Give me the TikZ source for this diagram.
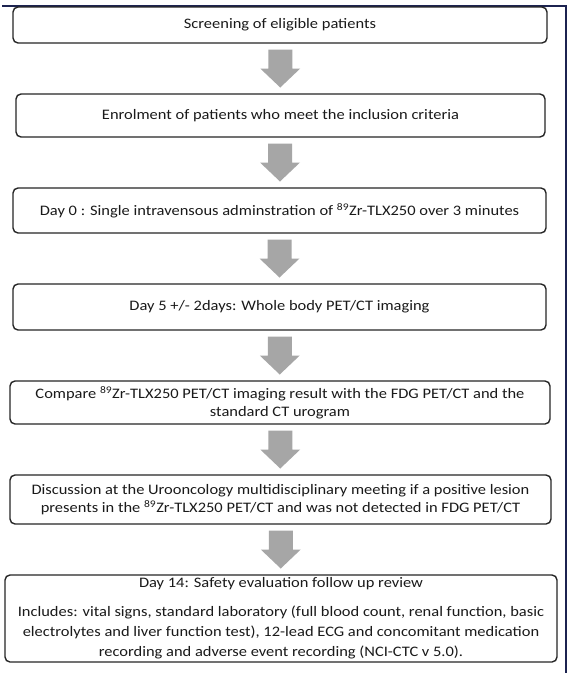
\documentclass[tikz,border=0pt]{standalone}
\usepackage{fontspec}
\setmainfont[FakeStretch=1.135]{Carlito}
\usetikzlibrary{calc}
\definecolor{navyline}{HTML}{1C2350}
\definecolor{boxline}{HTML}{262626}
\definecolor{arrowgray}{HTML}{A6A6A6}
\definecolor{txt}{HTML}{1A1A1A}
\tikzset{
  flowbox/.style={draw=boxline, line width=1.4pt, rounded corners=5pt, inner sep=0pt,
    align=center, text=txt, font=\fontsize{14.5}{18}\selectfont},
  blockarrow/.style={fill=arrowgray, draw=none}
}
\newcommand{\blockarr}[2]{%
  \path ($(#1.south)!0.5!(#2.north)$) coordinate (m);
  \fill[blockarrow] ($(m)+(-12,19)$) -- ($(m)+(12,19)$) -- ($(m)+(12,0)$) -- ($(m)+(20,0)$)
    -- ($(m)+(0,-19)$) -- ($(m)+(-20,0)$) -- ($(m)+(-12,0)$) -- cycle;}
\begin{document}
\begin{tikzpicture}[x=1pt,y=1pt]
\useasboundingbox (0,0) rectangle (570,-673);
\fill[white] (0,0) rectangle (570,-673);
\draw[navyline, line width=2pt] (2,-5.5) -- (566,-5.5) -- (566,-673);

\node[flowbox, minimum width=534pt, minimum height=36pt] (b1) at (280,-25) {Screening of eligible patients};
\node[flowbox, minimum width=529pt, minimum height=43pt] (b2) at (280.5,-115.5) {Enrolment of patients who meet the inclusion criteria};
\node[flowbox, minimum width=533pt, minimum height=45pt] (b3) at (279.5,-210.5) {Day 0 : Single intravensous adminstration of \textsuperscript{89}Zr-TLX250 over 3 minutes};
\node[flowbox, minimum width=533pt, minimum height=46pt] (b4) at (279.5,-307) {Day 5 +/- 2days: Whole body PET/CT imaging};
\node[flowbox, minimum width=540pt, minimum height=43pt] (b5) at (280,-402.5) {Compare \textsuperscript{89}Zr-TLX250 PET/CT imaging result with the FDG PET/CT and the\\ standard CT urogram};
\node[flowbox, minimum width=541pt, minimum height=49pt] (b6) at (280.5,-499.5) {Discussion at the Urooncology multidisciplinary meeting if a positive lesion\\ presents in the \textsuperscript{89}Zr-TLX250 PET/CT and was not detected in FDG PET/CT};
\node[flowbox, minimum width=552pt, minimum height=87pt, font=\fontsize{14.5}{20}\selectfont] (b7) at (281,-618.5) {Day 14: Safety evaluation follow up review\\[9pt]
Includes: vital signs, standard laboratory (full blood count, renal function, basic\\
electrolytes and liver function test), 12-lead ECG and concomitant medication\\
recording and adverse event recording (NCI-CTC v 5.0).};

\blockarr{b1}{b2}
\blockarr{b2}{b3}
\blockarr{b3}{b4}
\blockarr{b4}{b5}
\blockarr{b5}{b6}
\blockarr{b6}{b7}
\end{tikzpicture}
\end{document}
